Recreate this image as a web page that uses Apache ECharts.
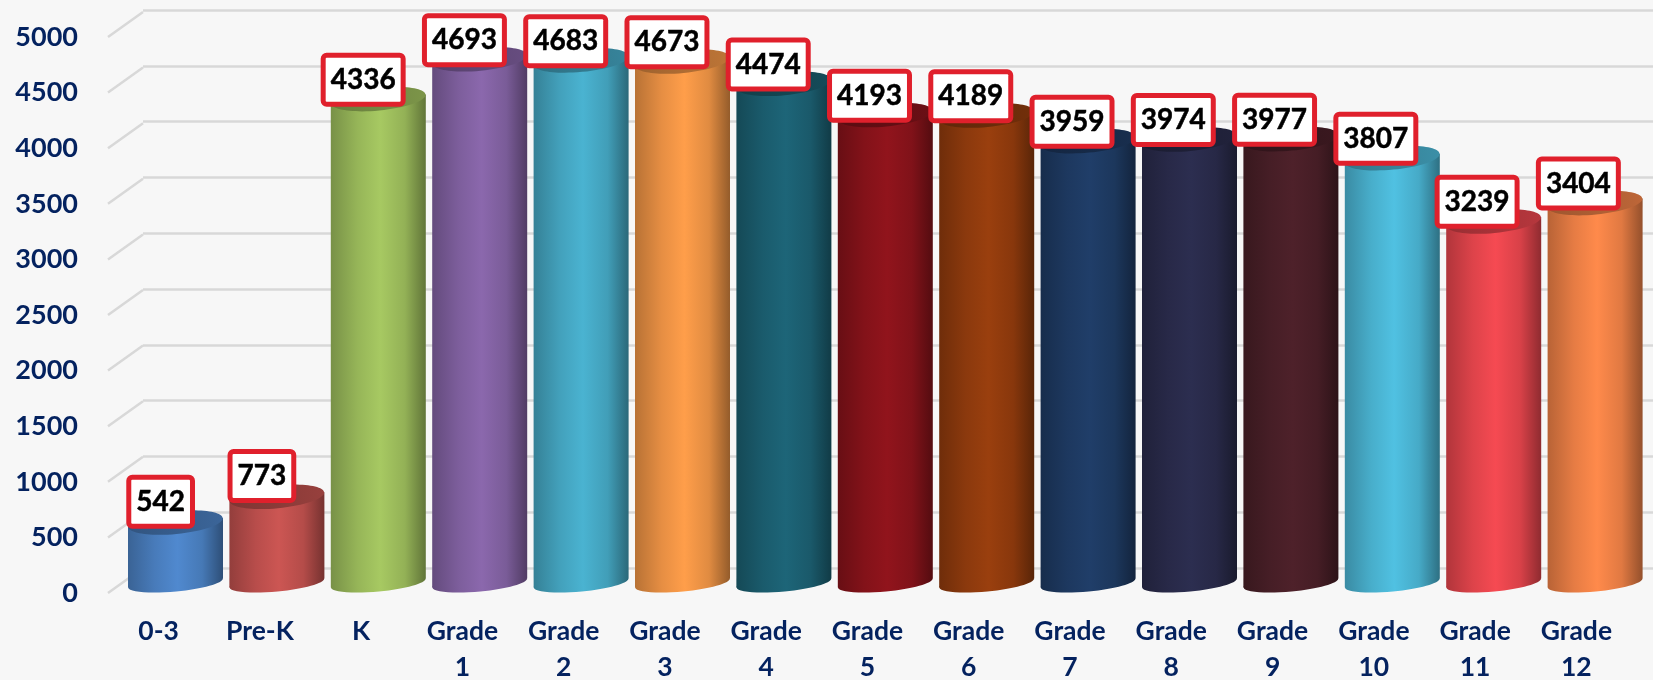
<!DOCTYPE html>
<html><head><meta charset="utf-8">
<style>html,body{margin:0;padding:0;background:#f7f7f7}#c{width:1653px;height:680px}</style>
<script src="https://cdn.jsdelivr.net/npm/echarts@6/dist/echarts.min.js"></script>
</head><body><div id="c"></div>
<script>
const categories = ['0-3','Pre-K','K','Grade\n1','Grade\n2','Grade\n3','Grade\n4','Grade\n5','Grade\n6','Grade\n7','Grade\n8','Grade\n9','Grade\n10','Grade\n11','Grade\n12'];
const values = [542,773,4336,4693,4683,4673,4474,4193,4189,3959,3974,3977,3807,3239,3404];
const tickValues = [0,500,1000,1500,2000,2500,3000,3500,4000,4500,5000];
const palette = ['#5089cf','#cc5653','#a7c962','#8b68ad','#4ab3d1','#ff9e4a','#1d6578','#91141c','#9a3f0e','#203e69','#2c2e50','#4e212a','#50c1e2','#f64a52','#ff8a4b'];

const NAVY = '#04225f', GRID = '#d8d8d8', RED = '#e0202c';

function shade(hex, k){
  const n = parseInt(hex.slice(1),16);
  const c = s => Math.round(((n>>s)&255)*k);
  return `rgb(${c(16)},${c(8)},${c(0)})`;
}
const sideFill = col => ({type:'linear',x:0,y:0,x2:1,y2:0,colorStops:[
  {offset:0,color:shade(col,.72)},{offset:.28,color:shade(col,.9)},{offset:.52,color:col},
  {offset:.78,color:shade(col,.88)},{offset:1,color:shade(col,.58)}]});

function renderCylinder(params, api){
  const i = api.value(0), v = api.value(1);
  const col = palette[i];
  const top = api.coord([i,v]), bot = api.coord([i,0]);
  const cx = top[0], rx = 47.5, d = 4.5, rot = Math.asin(d/rx);
  const ell = (cy, ry, fill) => ({type:'ellipse',originX:cx,originY:cy,rotation:rot,
    shape:{cx,cy,rx,ry},style:{fill}});
  return {type:'group',children:[
    ell(bot[1], 8.5, sideFill(col)),
    {type:'polygon',shape:{points:[[cx-rx,top[1]+d],[cx+rx,top[1]-d],[cx+rx,bot[1]-d],[cx-rx,bot[1]+d]]},style:{fill:sideFill(col)}},
    ell(top[1], 11.5, {type:'linear',x:0,y:0,x2:1,y2:0,colorStops:[{offset:0,color:shade(col,.62)},{offset:1,color:shade(col,.74)}]})
  ]};
}
function renderDiagonal(params, api){
  const p = api.coord([0,api.value(0)]);
  const x = params.coordSys.x;
  return {type:'line',shape:{x1:x,y1:p[1],x2:x+35,y2:p[1]-25},style:{stroke:GRID,lineWidth:2.5}};
}
function renderLabel(params, api){
  const i = api.value(0), v = api.value(1);
  const p = api.coord([i,v]);
  return {type:'text',z2:10,style:{text:String(v),x:p[0]+2,y:p[1]-31,align:'center',verticalAlign:'middle',
    font:'bold 28px Lato',fill:'#000',stroke:'#000',lineWidth:0.5,backgroundColor:'#fff',borderColor:RED,borderWidth:5,borderRadius:1,
    padding:[8,5,8,5]}};
}
const pairs = values.map((v,i)=>[i,v]);
const noAxis = {show:false};
const chart = echarts.init(document.getElementById('c'),null,{renderer:'canvas'});
chart.setOption({
  animation:false,
  backgroundColor:'#f7f7f7',
  grid:[
    {left:143,right:0,top:10,height:558,outerBoundsMode:'none'},   // back wall
    {left:124.8,width:1521,top:25,height:558,outerBoundsMode:'none'}, // cylinders
    {left:108,width:1519,top:37,height:556,outerBoundsMode:'none'}   // front edge, labels
  ],
  xAxis:[
    {gridIndex:0,type:'value',min:0,max:1,...noAxis},
    {gridIndex:1,type:'category',data:categories,...noAxis},
    {gridIndex:2,type:'category',data:categories,axisLine:{show:false},axisTick:{show:false},
      axisLabel:{interval:0,margin:20,fontFamily:'Lato',fontWeight:'bold',fontSize:26.5,color:NAVY,lineHeight:36}}
  ],
  yAxis:[
    {gridIndex:0,type:'value',min:0,max:5000,interval:500,axisLabel:{show:false},axisLine:{show:false},axisTick:{show:false},
      splitLine:{show:true,lineStyle:{color:GRID,width:2.5}}},
    {gridIndex:1,type:'value',min:0,max:5000,interval:500,...noAxis},
    {gridIndex:2,type:'value',min:0,max:5000,interval:500,axisLine:{show:false},axisTick:{show:false},splitLine:{show:false},
      axisLabel:{margin:30,fontFamily:'Lato',fontWeight:'bold',fontSize:27,color:NAVY,formatter:v=>String(v)}}
  ],
  series:[
    {type:'custom',xAxisIndex:2,yAxisIndex:2,data:tickValues.map(v=>[v]),encode:{y:0},renderItem:renderDiagonal,clip:false,z:1,silent:true},
    {type:'custom',xAxisIndex:1,yAxisIndex:1,data:pairs,encode:{x:0,y:1},renderItem:renderCylinder,clip:false,z:2,silent:true},
    {type:'custom',xAxisIndex:2,yAxisIndex:2,data:pairs,encode:{x:0,y:1},renderItem:renderLabel,clip:false,z:5,silent:true}
  ]
});
</script></body></html>
